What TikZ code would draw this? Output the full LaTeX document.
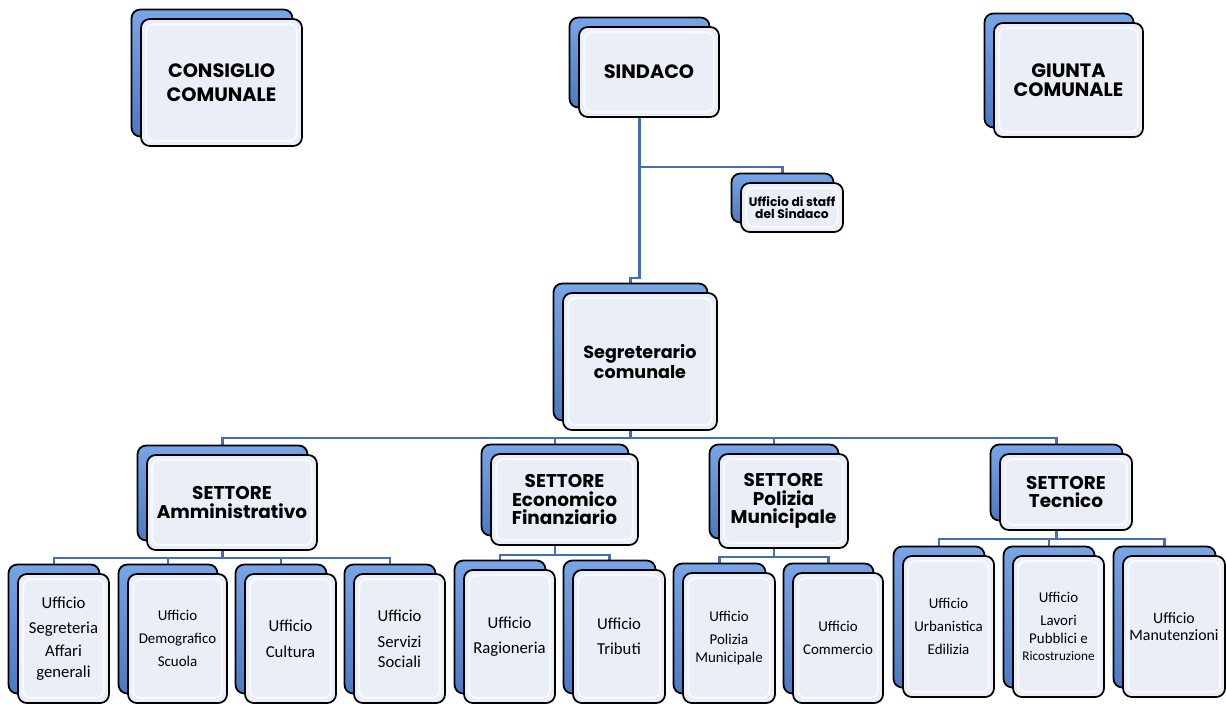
\documentclass[tikz,border=0pt]{standalone}
\usepackage{fontspec}
\newfontfamily\titlefont{Poppins}
\newfontfamily\boxfont{Carlito}
\usetikzlibrary{backgrounds,calc,positioning}

\definecolor{linkblue}{RGB}{68,110,185}
\definecolor{backblue}{RGB}{74,122,196}
\definecolor{backlight}{RGB}{120,165,230}
\definecolor{frontfill}{RGB}{233,238,247}

\tikzset{
	backbox/.style={rectangle,rounded corners=5pt,draw=black,line width=1pt,inner sep=0pt,
		top color=backlight,bottom color=backblue},
	frontbox/.style={rectangle,rounded corners=5pt,draw=black,line width=1pt,fill=frontfill,align=center,inner sep=0pt,
		path picture={\draw[white,line width=1.2pt,rounded corners=4pt,opacity=.7]
			([shift={(3pt,3pt)}]path picture bounding box.south west) rectangle
			([shift={(-3pt,-3pt)}]path picture bounding box.north east);}},
	link/.style={draw=linkblue,line width=1.4pt},
	bigtitle/.style={font=\titlefont\bfseries\fontsize{11}{13.5}\selectfont},
	settore/.style={font=\titlefont\bfseries\fontsize{10.5}{10.5}\selectfont},
	segrtitle/.style={font=\titlefont\bfseries\fontsize{10}{10}\selectfont},
	stafftitle/.style={font=\titlefont\bfseries\fontsize{7}{7}\selectfont},
	ufficio/.style={font=\boxfont\fontsize{9.5}{14.5}\selectfont},
	ufficiosm/.style={font=\boxfont\fontsize{8.5}{13}\selectfont}
}

% back box (named) + front box with the text
\newcommand{\orgbox}[6]{%
	\node[backbox,minimum width=#4cm,minimum height=#5cm] (#2) at (#3) {};
	\node[frontbox,#1,minimum width=#4cm,minimum height=#5cm] (#2-f) at ([shift={(0.19,-0.19)}]#2.center) {#6};
}

\begin{document}
\begin{tikzpicture}
	\useasboundingbox (0,0) rectangle (24.52,-14.08);

	% top level
	\orgbox{bigtitle}{cons}{4.24,-1.46}{3.22}{2.54}{CONSIGLIO\\COMUNALE}
	\orgbox{bigtitle}{sind}{12.79,-1.25}{2.8}{1.8}{SINDACO}
	\orgbox{bigtitle,font=\titlefont\bfseries\fontsize{11}{10.5}\selectfont}{giunta}{21.18,-1.41}{2.98}{2.28}{GIUNTA\\COMUNALE}
	\orgbox{stafftitle}{staff}{15.65,-3.96}{2.04}{0.98}{Ufficio di staff\\del Sindaco}
	\orgbox{segrtitle}{segr}{12.61,-7.04}{3.08}{2.74}{Segreterario\\comunale}

	% settori
	\orgbox{settore}{amm}{4.45,-9.86}{3.4}{1.9}{SETTORE\\Amministrativo}
	\orgbox{settore}{eco}{11.10,-9.80}{2.94}{1.82}{SETTORE\\Economico\\Finanziario}
	\orgbox{settore}{pol}{15.48,-9.83}{2.58}{1.88}{SETTORE\\Polizia\\Municipale}
	\orgbox{settore}{tec}{21.13,-9.65}{2.64}{1.52}{SETTORE\\Tecnico}

	% uffici
	\orgbox{ufficio,font=\boxfont\fontsize{9.5}{12}\selectfont}{a1}{1.08,-12.58}{1.82}{2.58}{Ufficio\\[2pt]Segreteria\\[1pt]Affari\\generali}
	\orgbox{ufficiosm}{a2}{3.36,-12.58}{1.98}{2.58}{Ufficio\\Demografico\\Scuola}
	\orgbox{ufficio,font=\boxfont\fontsize{9.5}{15}\selectfont}{a3}{5.62,-12.58}{1.82}{2.58}{Ufficio\\Cultura}
	\orgbox{ufficio,font=\boxfont\fontsize{9.5}{11}\selectfont}{a4}{7.80,-12.58}{1.82}{2.58}{Ufficio\\[4pt]Servizi\\Sociali}
	\orgbox{ufficio}{e1}{10.00,-12.54}{1.82}{2.66}{Ufficio\\Ragioneria}
	\orgbox{ufficio}{e2}{12.19,-12.54}{1.84}{2.66}{Ufficio\\Tributi}
	\orgbox{ufficiosm,font=\boxfont\fontsize{8.5}{10}\selectfont}{p1}{14.39,-12.57}{1.84}{2.60}{Ufficio\\[3pt]Polizia\\Municipale}
	\orgbox{ufficiosm}{p2}{16.57,-12.57}{1.80}{2.60}{Ufficio\\Commercio}
	\orgbox{ufficiosm}{t1}{18.78,-12.34}{1.82}{2.82}{Ufficio\\Urbanistica\\Edilizia}
	\orgbox{ufficiosm,font=\boxfont\fontsize{8.5}{10}\selectfont}{t2}{20.98,-12.34}{1.82}{2.82}{Ufficio\\[3pt]Lavori\\Pubblici e\\{\fontsize{7.5}{9.5}\selectfont Ricostruzione}}
	\orgbox{ufficio,font=\boxfont\fontsize{9}{9.5}\selectfont}{t3}{23.29,-12.34}{2.04}{2.82}{Ufficio\\Manutenzioni}

	% connectors
	\begin{scope}[on background layer]
		\begin{scope}[every path/.style={link}]
			\draw (sind.south) -- ++(0,-3.39) -| (segr.north);
			\draw (sind.south) -- ++(0,-1.17) -| (staff.north);
			\foreach \s in {amm,eco,pol,tec}
				\draw (segr.south) -- ++(0,-0.33) -| (\s.north);
			\foreach \u in {a1,a2,a3,a4}
				\draw (amm.south) -- ++(0,-0.33) -| (\u.north);
			\foreach \u in {e1,e2}
				\draw (eco.south) -- ++(0,-0.37) -| (\u.north);
			\foreach \u in {p1,p2}
				\draw (pol.south) -- ++(0,-0.35) -| (\u.north);
			\foreach \u in {t1,t2,t3}
				\draw (tec.south) -- ++(0,-0.35) -| (\u.north);
		\end{scope}
	\end{scope}
\end{tikzpicture}
\end{document}
